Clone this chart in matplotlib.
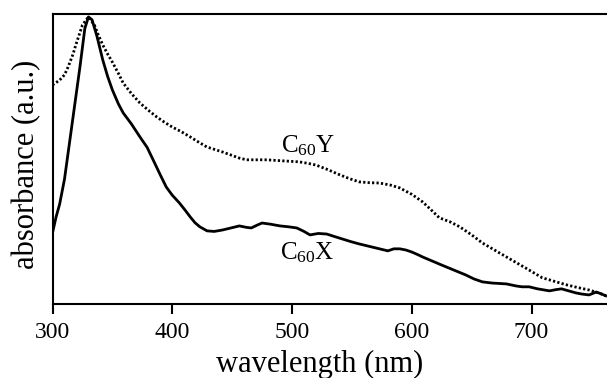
import numpy as np
import matplotlib
matplotlib.use("Agg")
import matplotlib.pyplot as plt

plt.rcParams['font.family'] = 'Liberation Serif'
plt.rcParams['mathtext.fontset'] = 'custom'
plt.rcParams['mathtext.rm'] = 'Liberation Serif'
plt.rcParams['mathtext.it'] = 'Liberation Serif:italic'

# C60X (solid line)
wl_x = [300, 303, 306, 310, 317, 323, 327, 330, 333, 337, 342, 346, 350, 355, 359,
        366, 373, 379, 384, 390, 395, 400, 406, 411, 415, 419, 423, 429, 435, 442,
        449, 456, 462, 466, 471, 475, 482, 490, 497, 504, 510, 515, 522, 529, 535,
        542, 549, 556, 563, 570, 575, 580, 585, 590, 595, 600, 605, 609, 617, 625,
        635, 645, 652, 659, 667, 679, 687, 692, 698, 705, 715, 720, 725, 731, 737,
        742, 748, 751, 754, 758, 762]
abs_x = [0.245, 0.300, 0.345, 0.430, 0.640, 0.820, 0.950, 0.990, 0.980, 0.925, 0.841,
         0.785, 0.738, 0.690, 0.659, 0.620, 0.576, 0.540, 0.497, 0.445, 0.403, 0.375,
         0.348, 0.322, 0.300, 0.280, 0.266, 0.252, 0.250, 0.255, 0.262, 0.269, 0.264,
         0.262, 0.272, 0.279, 0.275, 0.269, 0.266, 0.262, 0.250, 0.238, 0.243, 0.241,
         0.233, 0.224, 0.215, 0.207, 0.200, 0.193, 0.188, 0.183, 0.190, 0.190, 0.186,
         0.179, 0.170, 0.162, 0.148, 0.134, 0.117, 0.100, 0.086, 0.076, 0.072, 0.069,
         0.062, 0.059, 0.059, 0.052, 0.045, 0.049, 0.052, 0.045, 0.038, 0.034, 0.031,
         0.036, 0.041, 0.035, 0.028]

# C60Y (dotted line)
wl_y = [300, 306, 310, 313, 317, 320, 325, 330, 335, 338, 342, 346, 350, 355, 359,
        366, 373, 380, 387, 393, 400, 408, 415, 422, 429, 436, 442, 450, 456, 462,
        470, 479, 490, 506, 513, 520, 530, 540, 548, 556, 565, 573, 582, 590, 600,
        609, 616, 623, 632, 640, 650, 659, 669, 679, 687, 695, 702, 709, 719, 729,
        738, 748, 756, 762]
abs_y = [0.755, 0.772, 0.790, 0.817, 0.860, 0.900, 0.962, 0.990, 0.962, 0.930, 0.893,
         0.862, 0.834, 0.795, 0.762, 0.725, 0.693, 0.668, 0.645, 0.628, 0.610, 0.593,
         0.576, 0.558, 0.541, 0.532, 0.524, 0.512, 0.503, 0.497, 0.497, 0.497, 0.494,
         0.490, 0.485, 0.479, 0.463, 0.445, 0.432, 0.421, 0.418, 0.417, 0.410, 0.400,
         0.378, 0.352, 0.325, 0.297, 0.283, 0.266, 0.238, 0.210, 0.186, 0.162, 0.143,
         0.124, 0.107, 0.090, 0.078, 0.066, 0.057, 0.048, 0.038, 0.028]

xticks = [300, 400, 500, 600, 700]

fig = plt.figure(figsize=(6.07, 3.78), dpi=100)
ax = fig.add_axes([0.0865, 0.196, 0.9135, 0.767])

ax.plot(wl_x, abs_x, color='black', lw=2.0)
ax.plot(wl_y, abs_y, color='black', lw=2.0, linestyle=(0, (0.8, 0.8)))

ax.text(490.4, 0.524, r'C$_{60}$Y', fontsize=18, va='baseline', ha='left')
ax.text(489.6, 0.152, r'C$_{60}$X', fontsize=18, va='baseline', ha='left')

ax.set_xlim(300, 763)
ax.set_ylim(0, 1.0)
ax.set_xticks(xticks)
ax.set_xticklabels([str(t) for t in xticks], fontsize=17)
ax.set_yticks([])
ax.tick_params(axis='x', direction='out', length=7, width=1.5, pad=6)
ax.spines['right'].set_visible(False)
for s in ['left', 'bottom', 'top']:
    ax.spines[s].set_linewidth(1.5)

ax.set_xlabel('wavelength (nm)', fontsize=22)
ax.set_ylabel('absorbance (a.u.)', fontsize=22)
ax.xaxis.set_label_coords(0.482, -0.158)
ax.yaxis.set_label_coords(-0.02, 0.48)

fig.savefig('out.png', dpi=100)
